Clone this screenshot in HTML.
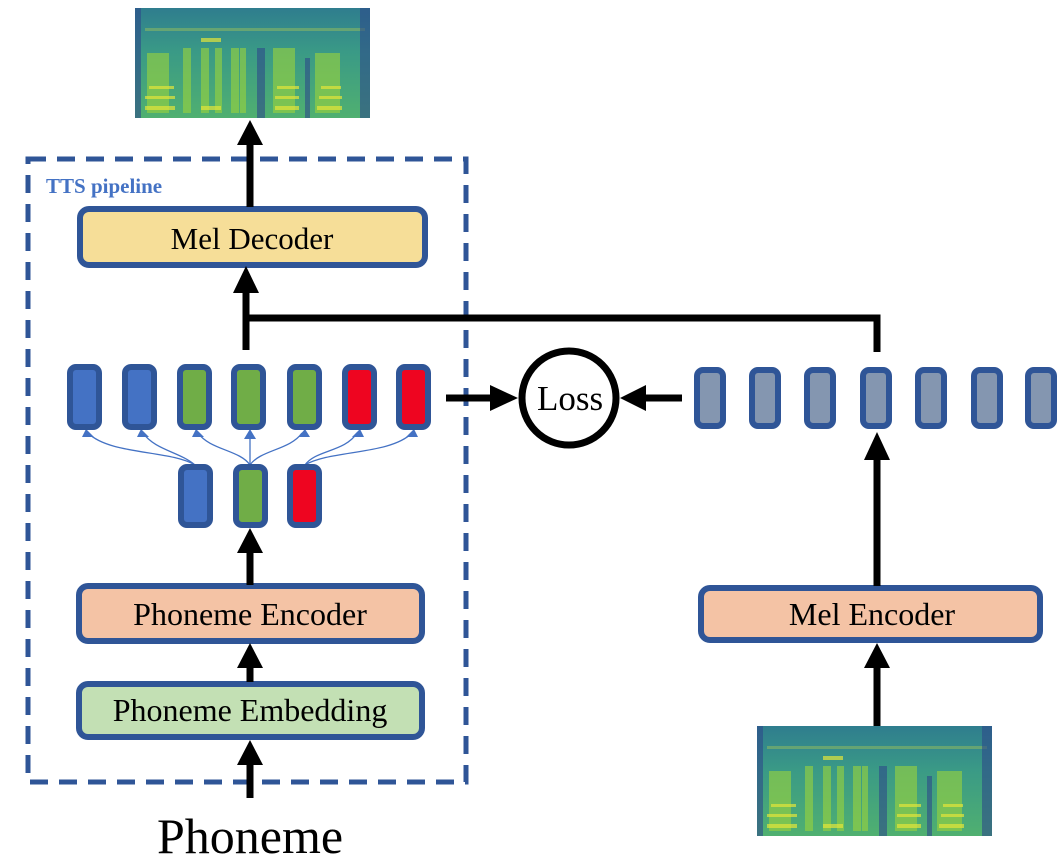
<!DOCTYPE html>
<html><head><meta charset="utf-8"><style>html,body{margin:0;padding:0;background:#fff}svg{display:block}</style></head>
<body>
<svg width="1061" height="862" viewBox="0 0 1061 862" xmlns="http://www.w3.org/2000/svg" font-family="'Liberation Serif', serif">
<defs>
  <linearGradient id="sg" x1="0" y1="0" x2="0" y2="1">
    <stop offset="0" stop-color="#2f7d8e"/>
    <stop offset="0.4" stop-color="#3a9a86"/>
    <stop offset="1" stop-color="#50b070"/>
  </linearGradient>
  <g id="spec">
    <rect x="0" y="0" width="235" height="110" fill="url(#sg)"/>
    <g fill="#9bd43c" opacity="0.6">
      <rect x="12" y="45" width="22" height="60"/>
      <rect x="48" y="40" width="8" height="65"/>
      <rect x="66" y="40" width="8" height="65"/>
      <rect x="80" y="40" width="7" height="65"/>
      <rect x="96" y="40" width="8" height="65"/>
      <rect x="105" y="40" width="6" height="65"/>
      <rect x="138" y="40" width="22" height="65"/>
      <rect x="180" y="45" width="25" height="60"/>
    </g>
    <g fill="#e3e53a" opacity="0.7">
      <rect x="10" y="98" width="30" height="4"/><rect x="10" y="88" width="30" height="3"/><rect x="14" y="78" width="25" height="3"/>
      <rect x="140" y="98" width="24" height="4"/><rect x="140" y="88" width="24" height="3"/><rect x="142" y="78" width="22" height="3"/>
      <rect x="182" y="98" width="25" height="4"/><rect x="184" y="88" width="23" height="3"/><rect x="186" y="78" width="20" height="3"/>
      <rect x="66" y="98" width="20" height="4"/><rect x="66" y="30" width="20" height="4"/><rect x="10" y="20" width="220" height="3" opacity="0.4"/>
    </g>
    <g fill="#2d4a8a" opacity="0.6">
      <rect x="0" y="0" width="6" height="110"/><rect x="225" y="0" width="10" height="110"/>
      <rect x="122" y="40" width="8" height="70"/><rect x="170" y="50" width="5" height="60"/>
    </g>
  </g>
</defs>

<use href="#spec" x="135" y="8"/>
<use href="#spec" x="757" y="726"/>

<rect x="28" y="159" width="438" height="623" fill="none" stroke="#2f5597" stroke-width="5" stroke-dasharray="18,11"/>
<text x="46" y="193" font-size="21" font-weight="bold" fill="#4472c4">TTS pipeline</text>

<rect x="80" y="209" width="345" height="56" rx="9" fill="#f6de98" stroke="#2f5597" stroke-width="6"/>
<text x="252" y="249" font-size="31" text-anchor="middle">Mel Decoder</text>
<rect x="79" y="586" width="343" height="55" rx="9" fill="#f4c3a5" stroke="#2f5597" stroke-width="6"/>
<text x="250" y="625" font-size="32" text-anchor="middle">Phoneme Encoder</text>
<rect x="79" y="684" width="343" height="53" rx="9" fill="#c3e0b4" stroke="#2f5597" stroke-width="6"/>
<text x="250" y="721" font-size="32" text-anchor="middle">Phoneme Embedding</text>
<rect x="701" y="588" width="339" height="52" rx="9" fill="#f4c3a5" stroke="#2f5597" stroke-width="6"/>
<text x="872" y="625" font-size="32" text-anchor="middle">Mel Encoder</text>

<g stroke="#000" stroke-width="7" fill="none">
  <line x1="250" y1="207" x2="250" y2="140"/>
  <line x1="246" y1="350" x2="246" y2="290"/>
  <polyline points="246,318 877,318 877,352"/>
  <line x1="250" y1="585" x2="250" y2="548"/>
  <line x1="250" y1="682" x2="250" y2="665"/>
  <line x1="250" y1="798" x2="250" y2="762"/>
  <line x1="877" y1="586" x2="877" y2="455"/>
  <line x1="877" y1="726" x2="877" y2="665"/>
  <line x1="446" y1="398" x2="492" y2="398"/>
  <line x1="682" y1="398" x2="640" y2="398"/>
</g>
<g fill="#000">
  <polygon points="237,145 263,145 250,120"/>
  <polygon points="233,293 259,293 246,266"/>
  <polygon points="237,553 263,553 250,528"/>
  <polygon points="237,668 263,668 250,643"/>
  <polygon points="237,765 263,765 250,740"/>
  <polygon points="864,460 890,460 877,432"/>
  <polygon points="864,668 890,668 877,643"/>
  <polygon points="490,385 490,411 518,398"/>
  <polygon points="646,385 646,411 620,398"/>
</g>

<circle cx="569" cy="398" r="47" fill="#fff" stroke="#000" stroke-width="7"/>
<text x="570" y="410" font-size="35" text-anchor="middle">Loss</text>

<g stroke="#4472c4" stroke-width="1.3" fill="none">
  <path d="M195,465 C170,450 110,455 88,433"/>
  <path d="M195,465 C180,452 155,450 143,433"/>
  <path d="M250,465 C240,450 210,450 198,433"/>
  <path d="M250,465 L250,433"/>
  <path d="M250,465 C260,450 290,450 302,433"/>
  <path d="M305,465 C315,450 345,452 357,433"/>
  <path d="M305,465 C330,450 390,455 412,433"/>
</g>
<g fill="#4472c4">
  <polygon points="82,437 94,437 86,429"/>
  <polygon points="137,437 149,437 141,429"/>
  <polygon points="192,437 204,437 196,429"/>
  <polygon points="244,439 256,439 250,429"/>
  <polygon points="298,437 310,437 305,429"/>
  <polygon points="352,437 364,437 360,429"/>
  <polygon points="406,437 418,437 414,429"/>
</g>

<g stroke="#2f5597" stroke-width="6">
  <rect x="70" y="367" width="29" height="60" rx="6" fill="#4472c4"/>
  <rect x="125" y="367" width="29" height="60" rx="6" fill="#4472c4"/>
  <rect x="180" y="367" width="29" height="60" rx="6" fill="#70ad47"/>
  <rect x="234" y="367" width="29" height="60" rx="6" fill="#70ad47"/>
  <rect x="290" y="367" width="29" height="60" rx="6" fill="#70ad47"/>
  <rect x="345" y="367" width="29" height="60" rx="6" fill="#ee0520"/>
  <rect x="399" y="367" width="29" height="60" rx="6" fill="#ee0520"/>

  <rect x="181" y="467" width="29" height="58" rx="6" fill="#4472c4"/>
  <rect x="236" y="467" width="29" height="58" rx="6" fill="#70ad47"/>
  <rect x="290" y="467" width="29" height="58" rx="6" fill="#ee0520"/>

  <rect x="697" y="370" width="26" height="56" rx="6" fill="#8496b0"/>
  <rect x="752" y="370" width="26" height="56" rx="6" fill="#8496b0"/>
  <rect x="807" y="370" width="26" height="56" rx="6" fill="#8496b0"/>
  <rect x="863" y="370" width="26" height="56" rx="6" fill="#8496b0"/>
  <rect x="918" y="370" width="26" height="56" rx="6" fill="#8496b0"/>
  <rect x="974" y="370" width="26" height="56" rx="6" fill="#8496b0"/>
  <rect x="1028" y="370" width="26" height="56" rx="6" fill="#8496b0"/>
</g>

<text x="250" y="853" font-size="50" text-anchor="middle">Phoneme</text>
</svg>
</body></html>
